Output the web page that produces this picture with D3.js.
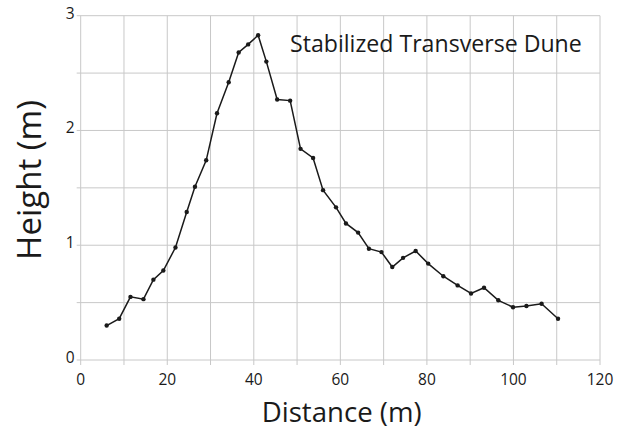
<!DOCTYPE html>
<html>
<head>
<meta charset="utf-8">
<script src="https://cdn.jsdelivr.net/npm/d3@7"></script>
<style>
  html, body { margin: 0; padding: 0; background: #fff; }
  svg { display: block; }
  text { font-family: "Open Sans", Lato, sans-serif; fill: #1a1a1a; }
</style>
</head>
<body>
<svg id="chart" width="626" height="432"></svg>
<script>
const distance = [6.0, 8.9, 11.5, 14.5, 16.8, 19.1, 21.9, 24.5, 26.4, 29.0, 31.5, 34.2, 36.5, 38.7, 41.0, 42.9, 45.4, 48.4, 50.8, 53.7, 56.0, 59.0, 61.3, 64.1, 66.6, 69.5, 72.0, 74.5, 77.4, 80.3, 83.8, 87.1, 90.2, 93.2, 96.5, 99.9, 103.0, 106.5, 110.3];
const height = [0.30, 0.36, 0.55, 0.53, 0.70, 0.78, 0.98, 1.29, 1.51, 1.74, 2.15, 2.42, 2.68, 2.75, 2.83, 2.60, 2.27, 2.26, 1.84, 1.76, 1.48, 1.33, 1.19, 1.11, 0.97, 0.94, 0.81, 0.89, 0.95, 0.84, 0.73, 0.65, 0.58, 0.63, 0.52, 0.46, 0.47, 0.49, 0.36];
const xTicks = [0, 20, 40, 60, 80, 100, 120];
const xGrid = [0, 10, 20, 30, 40, 50, 60, 70, 80, 90, 100, 110, 120];
const yTicks = [0, 1, 2, 3];
const yGrid = [0, 0.5, 1, 1.5, 2, 2.5, 3];
const title = "Stabilized Transverse Dune";
const xLabel = "Distance (m)";
const yLabel = "Height (m)";

const W = 626, H = 432;
const margin = {left: 80.7, right: 26, top: 15.7, bottom: 72};
const svg = d3.select("#chart");
const x = d3.scaleLinear().domain([0, 120]).range([margin.left, W - margin.right]);
const y = d3.scaleLinear().domain([0, 3]).range([H - margin.bottom, margin.top]);

const gridColor = "#c8c8c8";

function fit(sel, width) {
  const base = 20;
  sel.attr("font-size", base);
  const w = sel.node().getComputedTextLength();
  sel.attr("font-size", base * width / w);
  return sel;
}

// vertical grid + ticks below
svg.append("g").selectAll("line").data(xGrid).join("line")
  .attr("x1", d => x(d)).attr("x2", d => x(d))
  .attr("y1", y(3)).attr("y2", y(0) + 5)
  .attr("stroke", gridColor).attr("stroke-width", 1);
// horizontal grid + ticks left
svg.append("g").selectAll("line").data(yGrid).join("line")
  .attr("x1", x(0) - 4).attr("x2", x(120))
  .attr("y1", d => y(d)).attr("y2", d => y(d))
  .attr("stroke", gridColor).attr("stroke-width", 1);

// tick labels
svg.append("g").selectAll("text").data(xTicks).join("text")
  .attr("x", d => x(d)).attr("y", y(0) + 25)
  .attr("text-anchor", "middle").attr("font-size", 15.5)
  .text(d => d);
svg.append("g").selectAll("text").data(yTicks).join("text")
  .attr("x", x(0) - 6).attr("y", d => y(d) + 3)
  .attr("text-anchor", "end").attr("font-size", 15.5)
  .text(d => d);

// line
const pts = distance.map((d, i) => [d, height[i]]);
svg.append("path").datum(pts)
  .attr("fill", "none").attr("stroke", "#1a1a1a").attr("stroke-width", 1.5)
  .attr("d", d3.line().x(d => x(d[0])).y(d => y(d[1])));
svg.append("g").selectAll("circle").data(pts).join("circle")
  .attr("cx", d => x(d[0])).attr("cy", d => y(d[1])).attr("r", 2.2)
  .attr("fill", "#1a1a1a");

// title
fit(svg.append("text").attr("x", 290).attr("y", 51.7).text(title), 292);

// axis labels
fit(svg.append("text").attr("x", 341.7).attr("y", 422)
  .attr("text-anchor", "middle").text(xLabel), 160);
fit(svg.append("text")
  .attr("transform", `translate(41, 180) rotate(-90)`)
  .attr("text-anchor", "middle").text(yLabel), 160);
</script>
</body>
</html>
